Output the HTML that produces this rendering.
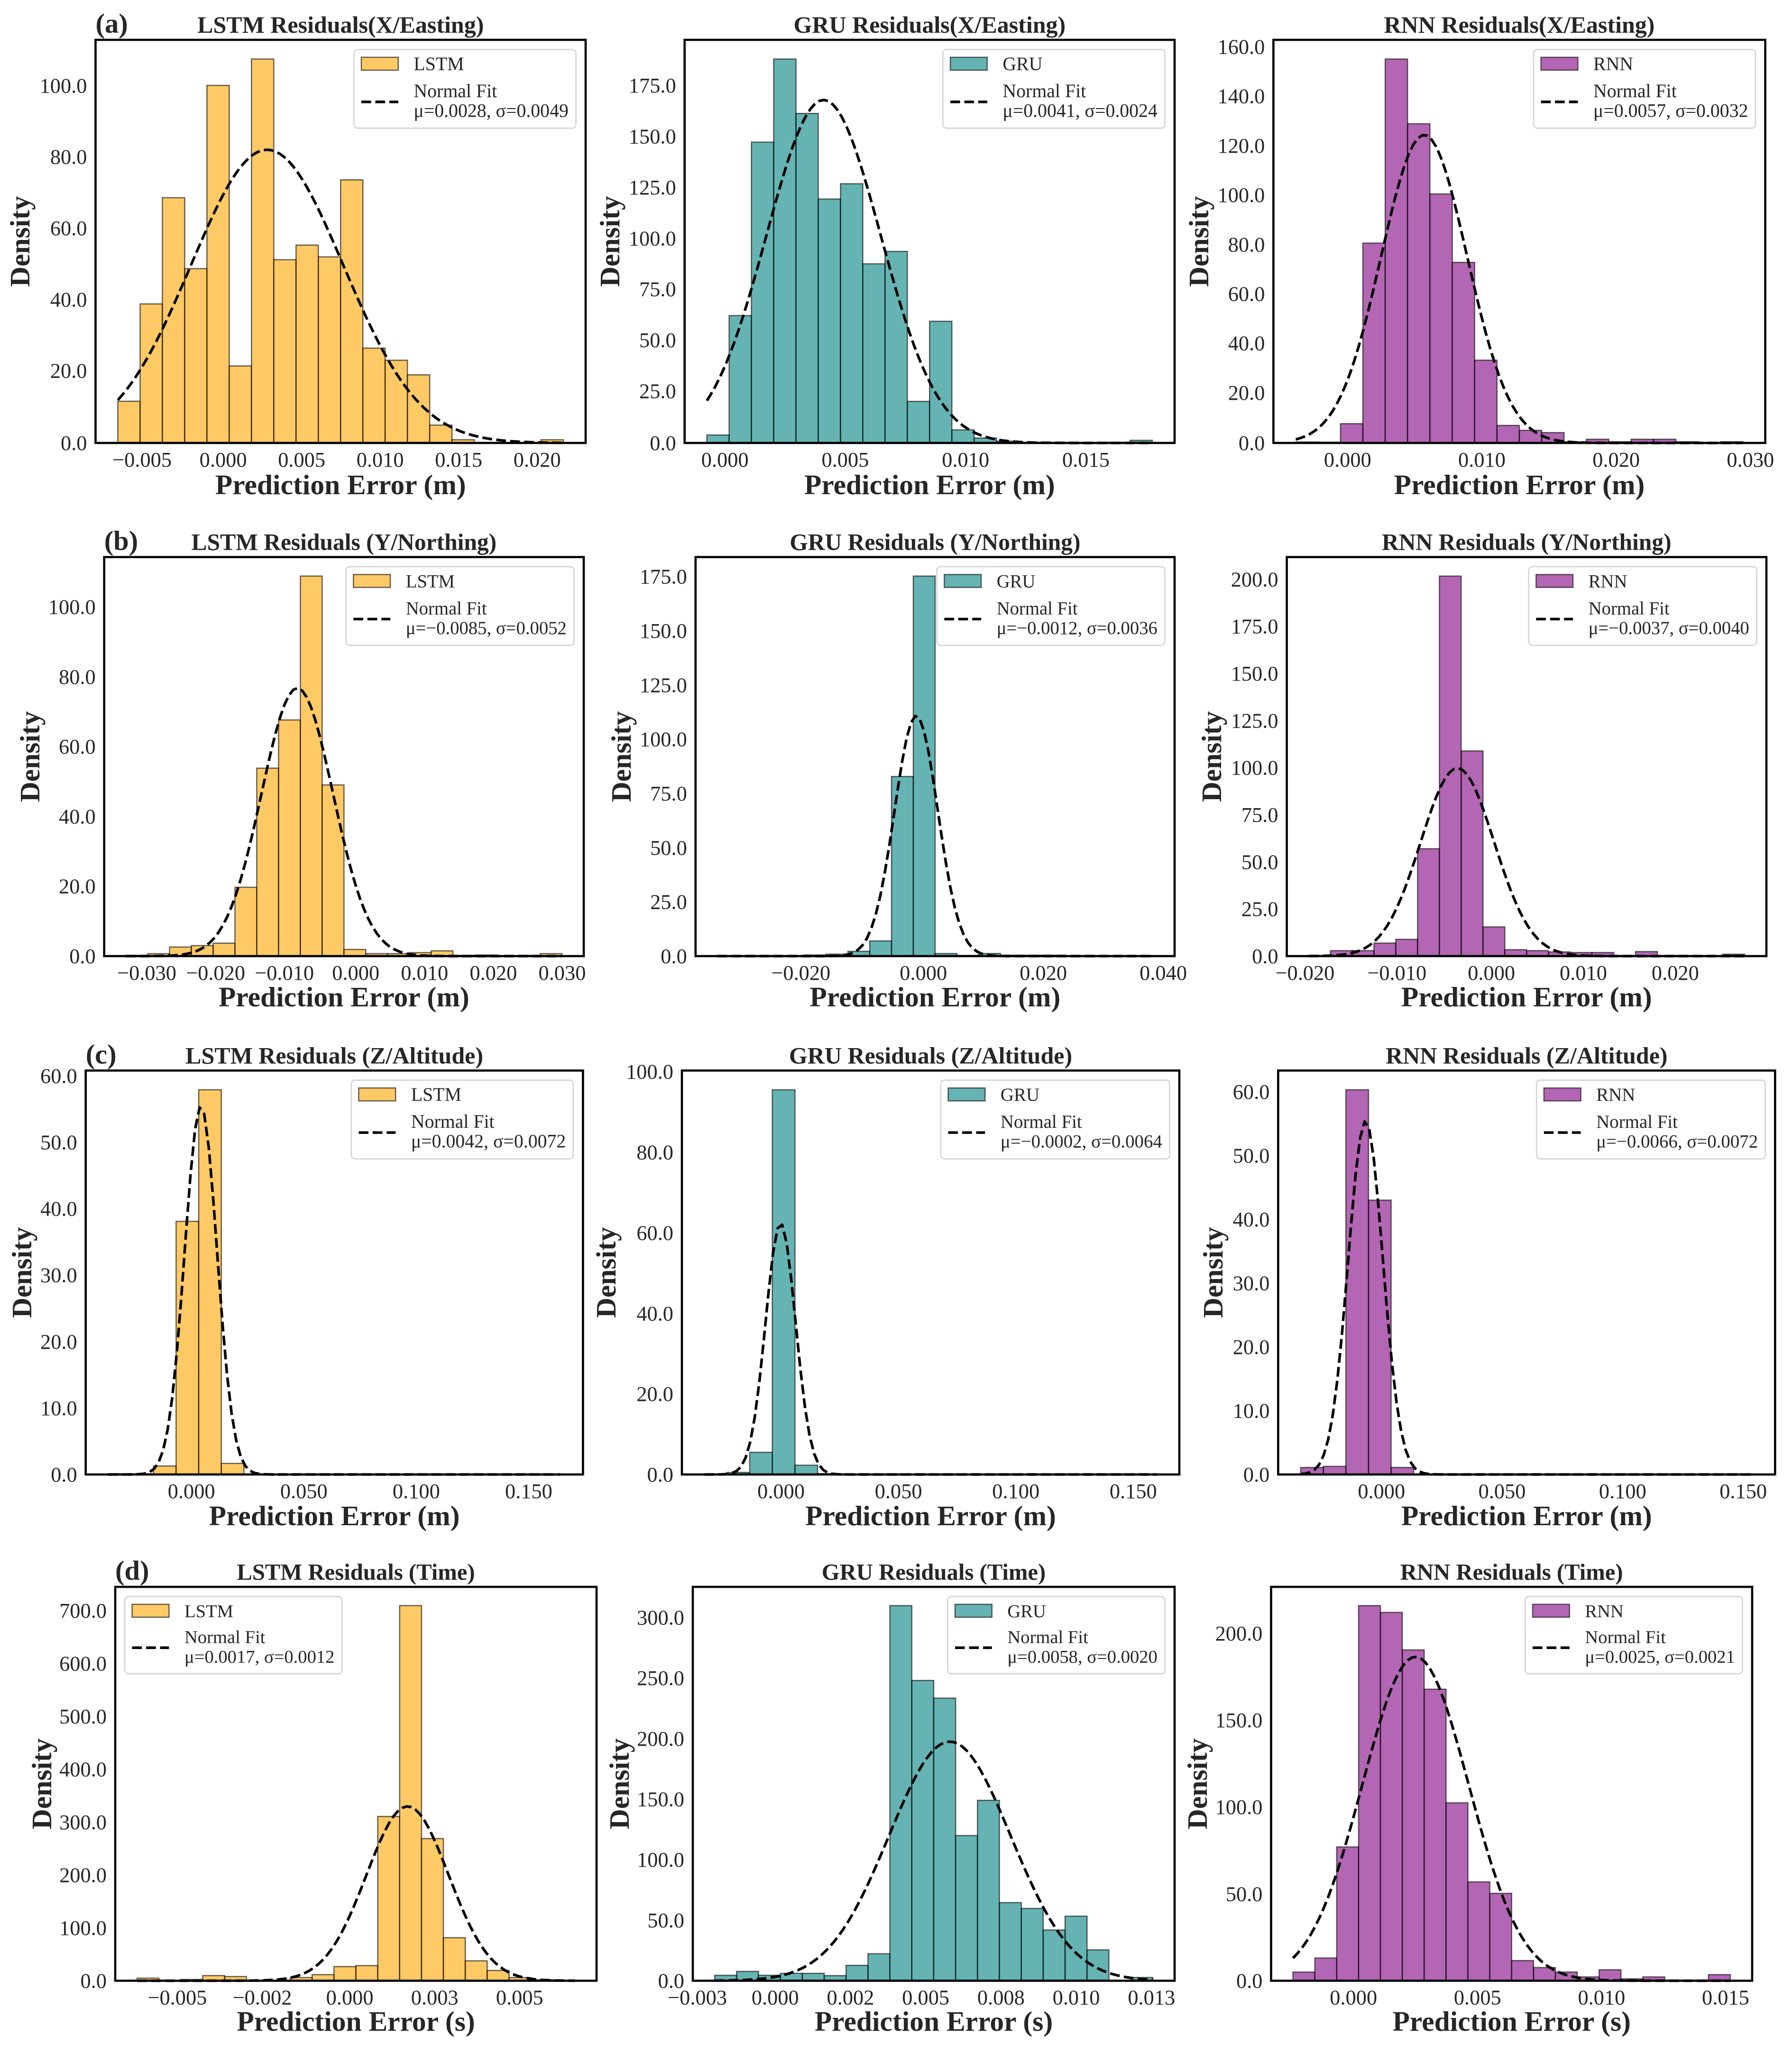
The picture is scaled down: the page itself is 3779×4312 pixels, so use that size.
<!DOCTYPE html>
<html lang="en">
<head>
<meta charset="utf-8">
<title>Residual histograms for LSTM, GRU and RNN</title>
<style>
html,body{margin:0;padding:0;background:#fff;}
svg{display:block;}
text{font-family:"Liberation Serif","Times New Roman",serif;fill:#262626;}
</style>
</head>
<body>
<svg id="figure" xmlns="http://www.w3.org/2000/svg" width="3779" height="4312" viewBox="0 0 3779 4312"></svg>
<script>
/* ---------- Row (a): X / Easting ---------- */
const lstmXHeights = [11.7,39,68.8,48.9,100.3,21.6,107.7,51.4,55.5,52.2,73.8,26.6,23.2,19.1,5.0,0.9,0.1,0.1,0.1,0.9];
const lstmXBinRange = [-0.00671,0.02167];
const lstmXFit = [0.0028,0.00485];
const lstmXTicks = [-0.005,0,0.005,0.01,0.015,0.02];
const lstmXTickLabels = ["−0.005","0.000","0.005","0.010","0.015","0.020"];
const lstmXDensityTicks = [0,20,40,60,80,100];

const gruXHeights = [3.9,62.5,147.6,188.4,161.7,119.7,127.2,87.9,94,20.4,59.7,6.4,2.4,0.9,0.3,0.1,0.2,0.2,0.3,1.3];
const gruXBinRange = [-0.00075,0.01776];
const gruXFit = [0.0041,0.00237];
const gruXTicks = [0,0.005,0.01,0.015];
const gruXTickLabels = ["0.000","0.005","0.010","0.015"];
const gruXDensityTicks = [0,25,50,75,100,125,150,175];

const rnnXHeights = [0.4,0.3,7.8,80.9,155.4,129.2,100.8,73.1,33.5,7.1,5.1,4.2,0.5,1.5,0.5,1.5,1.5,0.5,0.2,0.5];
const rnnXBinRange = [-0.00386,0.02944];
const rnnXFit = [0.0057,0.0032];
const rnnXTicks = [0,0.01,0.02,0.03];
const rnnXTickLabels = ["0.000","0.010","0.020","0.030"];
const rnnXDensityTicks = [0,20,40,60,80,100,120,140,160];

/* ---------- Row (b): Y / Northing ---------- */
const lstmYHeights = [0.2,0.7,2.6,3.0,3.7,19.7,53.8,67.6,108.8,49,1.9,0.7,0.7,1.0,1.5,0.2,0.3,0.1,0.2,0.7];
const lstmYBinRange = [-0.0334,0.02997];
const lstmYFit = [-0.0085,0.0052];
const lstmYTicks = [-0.03,-0.02,-0.01,0,0.01,0.02,0.03];
const lstmYTickLabels = ["−0.030","−0.020","−0.010","0.000","0.010","0.020","0.030"];
const lstmYDensityTicks = [0,20,40,60,80,100];

const gruYHeights = [0.1,0.1,0.1,0.1,0.5,0.9,2.2,7.0,82.8,175.2,1.2,0.3,1.2,0.4,0.4,0.4,0.1,0.1,0.1,0.1];
const gruYBinRange = [-0.03436,0.03826];
const gruYFit = [-0.0012,0.0036];
const gruYTicks = [-0.02,0,0.02,0.04];
const gruYTickLabels = ["−0.020","0.000","0.020","0.040"];
const gruYDensityTicks = [0,25,50,75,100,125,150,175];

const rnnYHeights = [0.3,2.9,2.9,6.9,8.9,57,201.7,108.9,15.5,3.4,2.9,2.2,1.9,1.9,0.3,2.4,0.3,0.3,0.2,1.0];
const rnnYBinRange = [-0.01989,0.02754];
const rnnYFit = [-0.0037,0.004];
const rnnYTicks = [-0.02,-0.01,0,0.01,0.02];
const rnnYTickLabels = ["−0.020","−0.010","0.000","0.010","0.020"];
const rnnYDensityTicks = [0,25,50,75,100,125,150,175,200];

/* ---------- Row (c): Z / Altitude ---------- */
const lstmZHeights = [0.1,0.1,1.27,38.1,57.9,1.66,0.03,0.03,0.03,0.03,0.03,0.03,0.03,0.03,0.03,0.03,0.03,0.03,0.03,0.03];
const lstmZBinRange = [-0.03698,0.16409];
const lstmZFit = [0.0042,0.0072];
const lstmZTicks = [0,0.05,0.1,0.15];
const lstmZTickLabels = ["0.000","0.050","0.100","0.150"];
const lstmZDensityTicks = [0,10,20,30,40,50,60];

const gruZHeights = [0.1,0.5,5.5,95.5,2.3,0.2,0.02,0.02,0.02,0.02,0.02,0.02,0.02,0.02,0.02,0.02,0.02,0.02,0.02,0.02];
const gruZBinRange = [-0.0326,0.16];
const gruZFit = [-0.0002,0.0064];
const gruZTicks = [0,0.05,0.1,0.15];
const gruZTickLabels = ["0.000","0.050","0.100","0.150"];
const gruZDensityTicks = [0,20,40,60,80,100];

const rnnZHeights = [1.1,1.27,60.3,43,1.1,0.02,0.02,0.02,0.02,0.02,0.02,0.02,0.02,0.02,0.02,0.02,0.02,0.02,0.02,0.02];
const rnnZBinRange = [-0.03347,0.15383];
const rnnZFit = [-0.0066,0.0072];
const rnnZTicks = [0,0.05,0.1,0.15];
const rnnZTickLabels = ["0.000","0.050","0.100","0.150"];
const rnnZDensityTicks = [0,10,20,30,40,50,60];

/* ---------- Row (d): Time ---------- */
const lstmTHeights = [4.9,0.5,2.4,9.7,7.9,1,0.5,6,11.5,26.7,28.5,310.7,709.4,268.8,81.3,37.6,19.4,6,1.8,0.5];
const lstmTBinRange = [-0.00626,0.00662];
const lstmTFit = [0.0017,0.00121];
const lstmTTicks = [-0.005,-0.0025,0,0.0025,0.005];
const lstmTTickLabels = ["−0.005","−0.002","0.000","0.003","0.005"];
const lstmTDensityTicks = [0,100,200,300,400,500,600,700];

const gruTHeights = [4.5,7.7,4.5,6.1,6.1,4.2,12.7,22.3,309.8,248,233.4,119.9,149,64.5,59.7,41.9,53.3,25.5,0.3,2.7];
const gruTBinRange = [-0.00201,0.01254];
const gruTFit = [0.0058,0.00202];
const gruTTicks = [-0.0025,0,0.0025,0.005,0.0075,0.01,0.0125];
const gruTTickLabels = ["−0.003","0.000","0.002","0.005","0.008","0.010","0.013"];
const gruTDensityTicks = [0,50,100,150,200,250,300];

const rnnTHeights = [5,13.1,77,215.9,212,190.4,167.8,102.4,56.9,50.3,11.6,7.6,5,2.2,6.3,1.1,2.2,0.3,0.3,3.5];
const rnnTBinRange = [-0.00244,0.01519];
const rnnTFit = [0.0025,0.00214];
const rnnTTicks = [0,0.005,0.01,0.015];
const rnnTTickLabels = ["0.000","0.005","0.010","0.015"];
const rnnTDensityTicks = [0,50,100,150,200];

/* ---------- Series names and text ---------- */
const modelNames = ["LSTM","GRU","RNN"];
const modelColors = {LSTM:"#FFA500",GRU:"#008080",RNN:"#800080"};
const rowTitles = ["Residuals(X/Easting)","Residuals (Y/Northing)","Residuals (Z/Altitude)","Residuals (Time)"];
const rowTags = ["(a)","(b)","(c)","(d)"];
const rowUnits = ["Prediction Error (m)","Prediction Error (m)","Prediction Error (m)","Prediction Error (s)"];

const panelData = [
 [[lstmXHeights,lstmXBinRange,lstmXFit,lstmXTicks,lstmXTickLabels,lstmXDensityTicks],
  [gruXHeights,gruXBinRange,gruXFit,gruXTicks,gruXTickLabels,gruXDensityTicks],
  [rnnXHeights,rnnXBinRange,rnnXFit,rnnXTicks,rnnXTickLabels,rnnXDensityTicks]],
 [[lstmYHeights,lstmYBinRange,lstmYFit,lstmYTicks,lstmYTickLabels,lstmYDensityTicks],
  [gruYHeights,gruYBinRange,gruYFit,gruYTicks,gruYTickLabels,gruYDensityTicks],
  [rnnYHeights,rnnYBinRange,rnnYFit,rnnYTicks,rnnYTickLabels,rnnYDensityTicks]],
 [[lstmZHeights,lstmZBinRange,lstmZFit,lstmZTicks,lstmZTickLabels,lstmZDensityTicks],
  [gruZHeights,gruZBinRange,gruZFit,gruZTicks,gruZTickLabels,gruZDensityTicks],
  [rnnZHeights,rnnZBinRange,rnnZFit,rnnZTicks,rnnZTickLabels,rnnZDensityTicks]],
 [[lstmTHeights,lstmTBinRange,lstmTFit,lstmTTicks,lstmTTickLabels,lstmTDensityTicks],
  [gruTHeights,gruTBinRange,gruTFit,gruTTicks,gruTTickLabels,gruTDensityTicks],
  [rnnTHeights,rnnTBinRange,rnnTFit,rnnTTicks,rnnTTickLabels,rnnTDensityTicks]]
];

/* ---------- Page layout (pixels, not data) ---------- */
const rowFrames = [[84,934],[1174.6,2016],[2257.3,3109],[3346,4176.5]];
const colFrames = [
 [[201.5,1235],[1443.7,2477],[2685.4,3722.6]],
 [[219.7,1231],[1466.8,2477],[2713.6,3725]],
 [[180.7,1229.4],[1438,2487],[2695.4,3743.3]],
 [[243,1258],[1461,2477],[2680.5,3695]]
];
const densityLabelBaselines = [[62,1306,2548],[83,1330,2575],[66,1298,2578],[108,1326,2545]];
const rowTitleSizes = [50,49.5,50,48.7];
const rowAxisTitleOffsets = [108,106,107,105.5];
const rowYTickOffsets = [13,15,15,15];
const panelLegendSizes = [[39.8,39.8,39.8],[38.7,38.7,38.7],[39.8,38.9,38.9],[38.6,38.6,38.6]];
const rowLegendHeights = [166,166,166,163];
const rowLegendShifts = [0,0,0,2.5];

const NS = "http://www.w3.org/2000/svg";
const FS_TICK = 44.4, FS_AXIS = 59.5, FS_TAG = 58.5;
const figure = document.getElementById("figure");

function make(tag, attrs, parent, text) {
  const el = document.createElementNS(NS, tag);
  for (const k in attrs) el.setAttribute(k, attrs[k]);
  if (text !== undefined) el.textContent = text;
  parent.appendChild(el);
  return el;
}
function signed(v) {
  return (v < 0 ? "−" : "") + Math.abs(v).toFixed(4);
}

function drawPanel(row, col) {
  const data = panelData[row][col];
  const heights = data[0], range = data[1], fit = data[2];
  const xTicks = data[3], xLabels = data[4], yTicks = data[5];
  const model = modelNames[col];
  const color = modelColors[model];
  const top = rowFrames[row][0], bottom = rowFrames[row][1];
  const left = colFrames[row][col][0], right = colFrames[row][col][1];
  const lo = range[0], hi = range[1];
  const span = right - left;
  const yMax = Math.max.apply(null, heights) * 1.05;
  const xScale = v => left + span / 22 + (v - lo) / (hi - lo) * span * 20 / 22;
  const yScale = v => bottom - v / yMax * (bottom - top);

  const panel = make("g", {}, figure);
  
  

  const binWidth = (hi - lo) / heights.length;
  heights.forEach((h, i) => {
    const x0 = xScale(lo + i * binWidth), x1 = xScale(lo + (i + 1) * binWidth);
    const bar = make("rect", {x: x0, y: yScale(h), width: x1 - x0, height: bottom - yScale(h),
      fill: color, "fill-opacity": 0.6, stroke: "#000", "stroke-opacity": 0.6, "stroke-width": 2.5}, panel);
    
    
  });

  const mu = fit[0], sigma = fit[1];
  const pts = [];
  for (let i = 0; i < 100; i++) {
    const x = lo + (hi - lo) * i / 99;
    const d = Math.exp(-0.5 * Math.pow((x - mu) / sigma, 2)) / (sigma * Math.sqrt(2 * Math.PI));
    pts.push(xScale(x).toFixed(2) + "," + yScale(d).toFixed(2));
  }
  const curve = make("polyline", {points: pts.join(" "), fill: "none", stroke: "#000",
    "stroke-width": 5.56, "stroke-dasharray": "20.6 8.9", "stroke-linejoin": "round"}, panel);
  
  

  const frame = make("rect", {x: left, y: top, width: span, height: bottom - top,
    fill: "none", stroke: "#000", "stroke-width": 4.6}, panel);
  
  

  xTicks.forEach((v, i) => {
    const label = make("text", {x: xScale(v) + (v < 0 ? -5.5 : 0), y: bottom + 50,
      "text-anchor": "middle", "font-size": FS_TICK}, panel, xLabels[i]);
    
    
  });
  yTicks.forEach(v => {
    const label = make("text", {x: left - 18, y: yScale(v) + (v === 0 ? 15 : rowYTickOffsets[row]),
      "text-anchor": "end", "font-size": FS_TICK}, panel, v.toFixed(1));
    
    
  });

  const cx = (left + right) / 2;
  const title = make("text", {x: cx, y: top - 15, "text-anchor": "middle", "font-size": rowTitleSizes[row],
    "font-weight": "bold"}, panel, model + " " + rowTitles[row]);
  
  

  const xTitle = make("text", {x: cx, y: bottom + rowAxisTitleOffsets[row], "text-anchor": "middle", "font-size": FS_AXIS,
    "font-weight": "bold"}, panel, rowUnits[row]);
  
  

  const yBase = densityLabelBaselines[row][col], yMid = (top + bottom) / 2;
  const yTitle = make("text", {x: yBase, y: yMid, "text-anchor": "middle", "font-size": FS_AXIS,
    "font-weight": "bold", transform: "rotate(-90 " + yBase + " " + yMid + ")"}, panel, "Density");
  
  

  if (col === 0) {
    const tag = make("text", {x: left, y: top - 15, "font-size": FS_TAG, "font-weight": "bold"}, panel, rowTags[row]);
    
    
  }

  /* legend */
  const fsLeg = panelLegendSizes[row][col];
  const shift = rowLegendShifts[row];
  const legend = make("g", {}, panel);
  
  
  const T = top + 20.3;
  const box = make("rect", {y: T, height: rowLegendHeights[row], rx: 7.8, ry: 7.8, fill: "#fff", "fill-opacity": 0.8,
    stroke: "#ccc", "stroke-opacity": 0.8, "stroke-width": 2.78}, legend);
  
  
  const swatch = make("rect", {y: T + 16.5, width: 77.8, height: 27.2, fill: color, "fill-opacity": 0.6,
    stroke: "#000", "stroke-opacity": 0.6, "stroke-width": 2.5}, legend);
  
  
  const dash = make("line", {y1: T + 110.5 - shift, y2: T + 110.5 - shift, stroke: "#000", "stroke-width": 5.56,
    "stroke-dasharray": "20.6 8.9"}, legend);
  
  
  const seriesText = make("text", {y: T + 43.5, "font-size": fsLeg}, legend, model);
  
  
  const fitText = make("text", {y: T + 100.5 - shift, "font-size": fsLeg}, legend, "Normal Fit");
  
  
  const statText = make("text", {y: T + 142 - shift, "font-size": fsLeg}, legend,
    "μ=" + signed(mu) + ", σ=" + signed(sigma));
  
  

  const textW = statText.getComputedTextLength();
  const boxW = 126 + textW + 15.6;
  const L = (row === 3 && col === 0) ? left + 20 : right - 20.5 - boxW;
  box.setAttribute("x", L);
  box.setAttribute("width", boxW);
  swatch.setAttribute("x", L + 15.6);
  dash.setAttribute("x1", L + 15.6);
  dash.setAttribute("x2", L + 15.6 + 77.8);
  [seriesText, fitText, statText].forEach(t => t.setAttribute("x", L + 126));
}

for (let r = 0; r < 4; r++) {
  for (let c = 0; c < 3; c++) drawPanel(r, c);
}
</script>
</body>
</html>
